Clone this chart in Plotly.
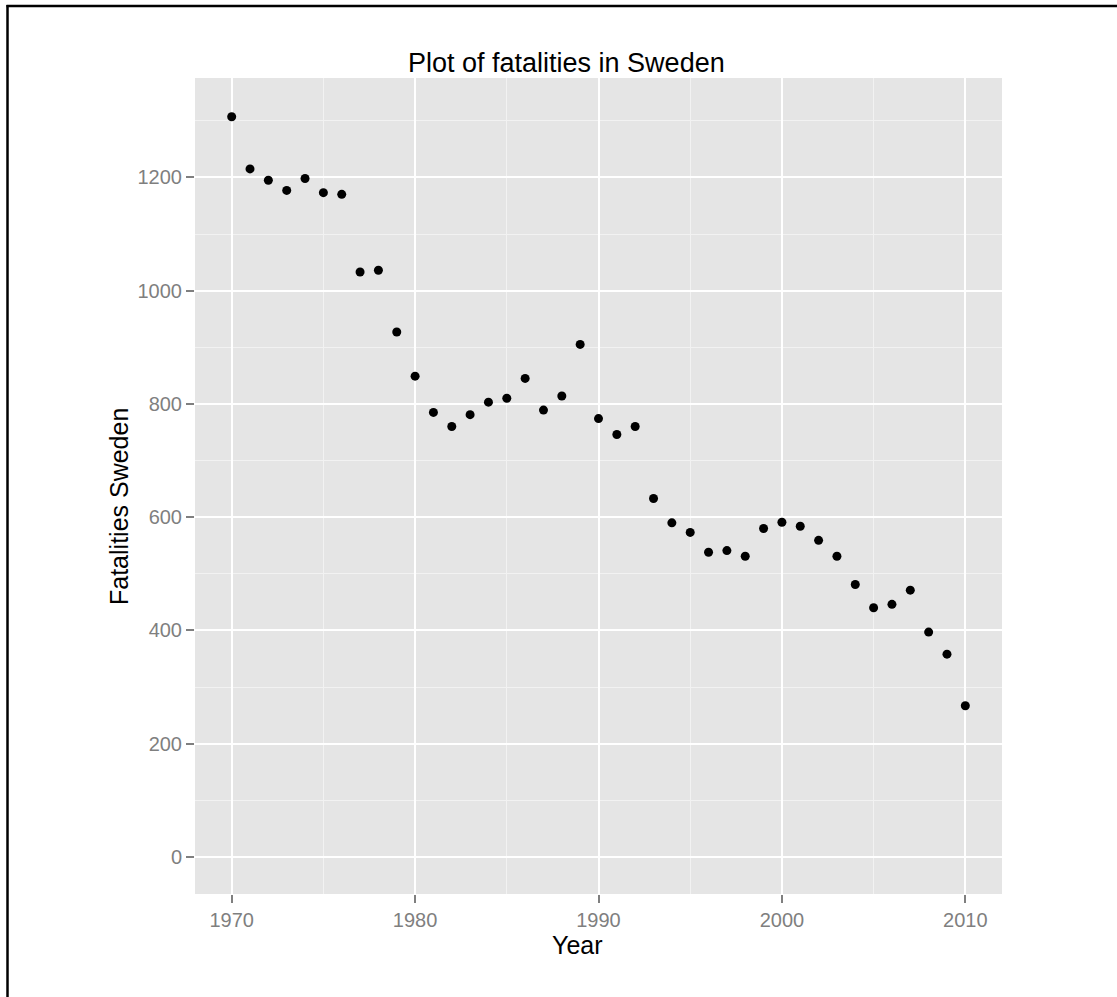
import plotly.graph_objects as go

# ---- data ----
years = list(range(1970, 2011))
fatalities = [1307, 1215, 1195, 1177, 1198, 1173, 1170, 1033, 1036, 927,
              849, 785, 760, 781, 803, 810, 845, 789, 814, 905,
              774, 746, 760, 633, 590, 573, 538, 541, 531, 580,
              591, 584, 559, 531, 481, 440, 446, 471, 397, 358, 267]
x_ticks = [1970, 1980, 1990, 2000, 2010]
y_ticks = [0, 200, 400, 600, 800, 1000, 1200]

# ---- layout constants (pixels) ----
W, H = 1117, 997
L, R, T, B = 195, 1002, 78, 894


def px_x(x):
    return (x - L) / (R - L)


def px_y(y):
    return (B - y) / (B - T)


fig = go.Figure()
fig.add_trace(go.Scatter(
    x=years, y=fatalities, mode="markers",
    marker=dict(color="black", size=9, line=dict(width=0)),
    hoverinfo="x+y", showlegend=False,
))

tick_font = dict(family="Liberation Sans, Arial, sans-serif", size=20, color="#7F7F7F")
axis_common = dict(
    showgrid=True, gridcolor="white", gridwidth=2,
    zeroline=False, showline=False,
    ticks="outside", ticklen=8, tickwidth=1.5, tickcolor="#7F7F7F",
    tickfont=tick_font,
)

fig.update_xaxes(
    range=[1968, 2012], tickvals=x_ticks, ticktext=[str(v) for v in x_ticks],
    minor=dict(tickvals=[1975, 1985, 1995, 2005], showgrid=True,
               gridcolor="#F2F2F2", gridwidth=1, ticks=""),
    **axis_common,
)
fig.update_yaxes(
    range=[-65.5, 1375.5], tickvals=y_ticks, ticktext=[str(v) for v in y_ticks],
    minor=dict(tickvals=[100, 300, 500, 700, 900, 1100, 1300], showgrid=True,
               gridcolor="#F2F2F2", gridwidth=1, ticks=""),
    **axis_common,
)

title_font = dict(family="Liberation Sans, Arial, sans-serif", color="black")
fig.update_layout(
    width=W, height=H,
    margin=dict(l=L, r=W - R, t=T, b=H - B, pad=0),
    paper_bgcolor="white", plot_bgcolor="#E5E5E5",
    annotations=[
        dict(text="Plot of fatalities in Sweden", xref="paper", yref="paper",
             x=px_x(566), y=px_y(63), xanchor="center", yanchor="middle",
             showarrow=False, font=dict(size=27, **title_font)),
        dict(text="Year", xref="paper", yref="paper",
             x=px_x(577), y=px_y(945), xanchor="center", yanchor="middle",
             showarrow=False, font=dict(size=25, **title_font)),
        dict(text="Fatalities Sweden", xref="paper", yref="paper",
             x=px_x(119), y=px_y(507), xanchor="center", yanchor="middle",
             textangle=-90, showarrow=False, font=dict(size=25, **title_font)),
    ],
    shapes=[
        dict(type="line", xref="paper", yref="paper",
             x0=px_x(7.5), x1=px_x(7.5), y0=px_y(5), y1=px_y(H + 5),
             line=dict(color="black", width=2.5)),
        dict(type="line", xref="paper", yref="paper",
             x0=px_x(6.5), x1=px_x(W + 5), y0=px_y(6), y1=px_y(6),
             line=dict(color="black", width=2.5)),
    ],
)

fig.write_html(
    "out.html",
    config={"displayModeBar": False},
    post_script="document.body.style.margin='0px';document.body.style.overflow='hidden';",
)
